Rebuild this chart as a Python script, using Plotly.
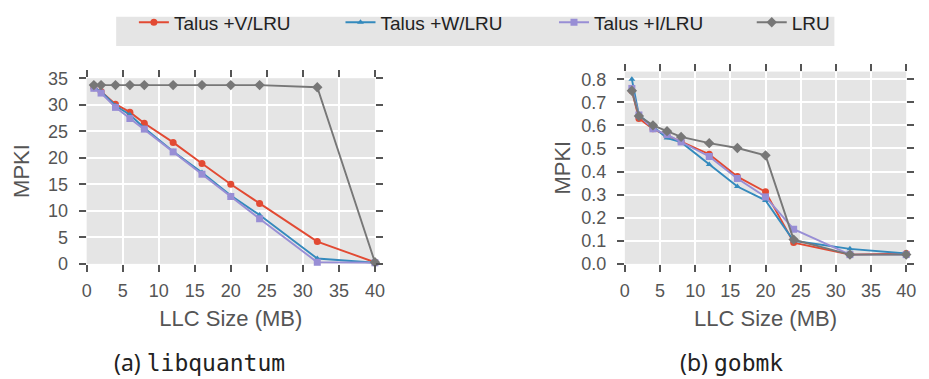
import plotly.graph_objects as go

# LLC sizes (MB) shared by both benchmarks
llc_mb = [1, 2, 4, 6, 8, 12, 16, 20, 24, 32, 40]

# libquantum MPKI
lq_v = [33.2, 32.5, 30.1, 28.6, 26.5, 22.9, 18.9, 15.0, 11.4, 4.2, 0.3]
lq_w = [33.3, 32.5, 29.8, 28.1, 25.6, 21.2, 17.2, 12.9, 9.2, 1.0, 0.2]
lq_i = [33.1, 32.2, 29.5, 27.4, 25.4, 21.1, 16.9, 12.7, 8.5, 0.3, 0.2]
lq_lru = [33.7, 33.7, 33.7, 33.7, 33.7, 33.7, 33.7, 33.7, 33.7, 33.3, 0.3]

# gobmk MPKI
gb_v = [0.75, 0.63, 0.585, 0.555, 0.53, 0.475, 0.378, 0.312, 0.092, 0.04, 0.045]
gb_w = [0.80, 0.645, 0.595, 0.545, 0.527, 0.43, 0.335, 0.275, 0.10, 0.065, 0.045]
gb_i = [0.76, 0.645, 0.585, 0.56, 0.528, 0.465, 0.37, 0.29, 0.15, 0.04, 0.04]
gb_lru = [0.75, 0.64, 0.60, 0.575, 0.55, 0.523, 0.502, 0.47, 0.105, 0.04, 0.04]

series_names = ["Talus +V/LRU", "Talus +W/LRU", "Talus +I/LRU", "LRU"]
colors = ["#E24A33", "#348ABD", "#988ED5", "#777777"]
symbols = ["circle", "triangle-up", "square", "diamond"]
sizes = [7, 6, 7, 8]

W, H = 929, 379
FONT = "Liberation Sans"
TXT = "#555555"

def px_x(v):
    return v / W

def px_y(v):
    return 1 - v / H

# one legend per series so the entries sit on a single spaced-out row
legend_ids = ["legend", "legend2", "legend3", "legend4"]
legend_left_px = [131, 341, 558, 759]

fig = go.Figure()

panels = [
    ([lq_v, lq_w, lq_i, lq_lru], "x", "y"),
    ([gb_v, gb_w, gb_i, gb_lru], "x2", "y2"),
]
for p, (vals, xa, ya) in enumerate(panels):
    for k in range(4):
        fig.add_trace(go.Scatter(
            x=llc_mb, y=vals[k], xaxis=xa, yaxis=ya,
            mode="lines+markers", name=series_names[k],
            legend=legend_ids[k], showlegend=(p == 0), cliponaxis=False,
            line=dict(color=colors[k], width=1.9),
            marker=dict(symbol=symbols[k], size=sizes[k], color=colors[k],
                        line=dict(width=0)),
        ))

common_axis = dict(
    showline=False, zeroline=False, showgrid=True, gridcolor="white",
    gridwidth=1.5, ticks="outside", ticklen=7, tickwidth=1.5,
    tickcolor=TXT, mirror="ticks",
    tickfont=dict(family=FONT, size=18, color=TXT),
    title_font=dict(family=FONT, size=22, color=TXT),
)

legend_style = dict(
    orientation="h", yanchor="top", y=px_y(-7), xanchor="left",
    bgcolor="rgba(0,0,0,0)", borderwidth=0,
    font=dict(family=FONT, size=19, color="#222222"),
)
legends = {lid: dict(x=px_x(lx), **legend_style)
           for lid, lx in zip(legend_ids, legend_left_px)}

fig.update_layout(
    width=W, height=H,
    margin=dict(l=0, r=0, t=0, b=0),
    paper_bgcolor="white", plot_bgcolor="#E5E5E5",
    xaxis=dict(domain=[px_x(83), px_x(376)], range=[0, 40], dtick=5,
               anchor="y", ticklabelstandoff=4,
               title=dict(text="LLC Size (MB)", standoff=10),
               **common_axis),
    yaxis=dict(domain=[px_y(268), px_y(72)], range=[0, 35], dtick=5,
               anchor="x", ticklabelstandoff=7,
               title=dict(text="MPKI", standoff=12),
               **common_axis),
    xaxis2=dict(domain=[px_x(630), px_x(916)], range=[0, 40], dtick=5,
                anchor="y2", ticklabelstandoff=4,
                title=dict(text="LLC Size (MB)", standoff=10),
                **common_axis),
    yaxis2=dict(domain=[px_y(268), px_y(65)], range=[0, 0.833], dtick=0.1,
                tickformat=".1f", anchor="x2", ticklabelstandoff=7,
                title=dict(text="MPKI", standoff=4),
                **common_axis),
    shapes=[dict(
        type="rect", xref="paper", yref="paper",
        x0=px_x(113), x1=px_x(843), y0=px_y(38), y1=px_y(7),
        fillcolor="#E5E5E5", line=dict(width=0), layer="below",
    )],
    **legends,
)

mono = "font-family:'DejaVu Sans Mono'"
captions = [("(a) <span style=\"%s\">libquantum</span>" % mono, 198),
            ("(b) <span style=\"%s\">gobmk</span>" % mono, 738)]
for text, cx in captions:
    fig.add_annotation(
        text=text, xref="paper", yref="paper",
        x=px_x(cx), y=px_y(372), xanchor="center", yanchor="middle",
        showarrow=False, font=dict(family="Noto Sans", size=23, color="#222222"),
    )

fig.write_html("out.html")
